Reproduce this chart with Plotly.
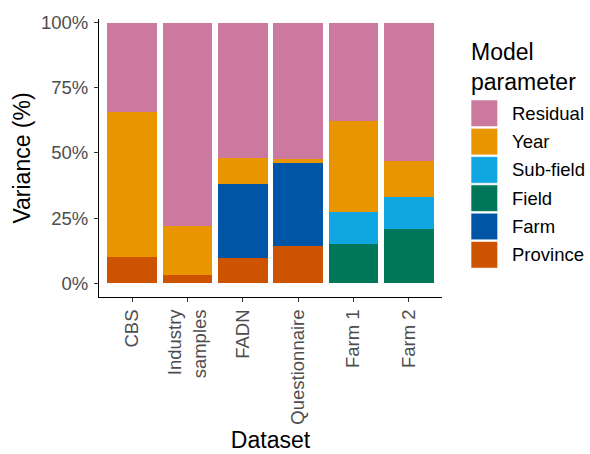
import plotly.graph_objects as go

# ---- data ----
datasets = ["CBS", "Industry<br>samples", "FADN", "Questionnaire", "Farm 1", "Farm 2"]
province = [10.2, 3.2, 9.6, 14.3, 0.0, 0.0]
farm     = [0.0, 0.0, 28.4, 31.9, 0.0, 0.0]
field    = [0.0, 0.0, 0.0, 0.0, 15.0, 20.7]
subfield = [0.0, 0.0, 0.0, 0.0, 12.4, 12.4]
year     = [55.6, 18.9, 10.1, 1.5, 34.9, 13.7]
residual = [34.2, 77.9, 51.9, 52.3, 37.7, 53.2]

series_names = ["Province", "Farm", "Field", "Sub-field", "Year", "Residual"]
series_vals = [province, farm, field, subfield, year, residual]
series_cols = ["#CD5300", "#0055A6", "#00775A", "#0FA6E2", "#E89500", "#CC79A0"]

y_ticks = [0, 25, 50, 75, 100]
y_ticktext = ["0%", "25%", "50%", "75%", "100%"]

FONT = "Liberation Sans, Arial, sans-serif"
W, H = 590, 454
L, R, T, B = 99, 441.7, 19, 297

fig = go.Figure()
for name, vals, col in zip(series_names, series_vals, series_cols):
    fig.add_trace(go.Bar(
        x=datasets, y=vals, name=name, width=0.9,
        marker=dict(color=col, line=dict(width=0)),
        showlegend=False,
    ))

def px_x(p):
    return (p - L) / (R - L)

def px_y(p):
    return (B - p) / (B - T)

# custom legend (ggplot style large keys), top item = Residual
shapes = []
annotations = []
key_x0, key_x1 = 470.7, 497.3
key_top0, key_step, key_h = 100.0, 28.3, 26.6
for i, (name, col) in enumerate(zip(series_names[::-1], series_cols[::-1])):
    top = key_top0 + i * key_step
    shapes.append(dict(type="rect", xref="paper", yref="paper",
                       x0=px_x(key_x0), x1=px_x(key_x1),
                       y0=px_y(top + key_h), y1=px_y(top),
                       fillcolor=col, line=dict(color="rgba(255,255,255,0.6)", width=1)))
    annotations.append(dict(xref="paper", yref="paper", x=px_x(510), y=px_y(top + key_h / 2),
                            text=name, showarrow=False, xanchor="left", yanchor="middle",
                            font=dict(family=FONT, size=18.5, color="#000000")))
annotations.append(dict(xref="paper", yref="paper", x=px_x(469), y=px_y(37),
                        text="Model<br>parameter", showarrow=False, xanchor="left", yanchor="top",
                        align="left",
                        font=dict(family=FONT, size=23, color="#000000")))

fig.update_layout(
    width=W, height=H,
    margin=dict(l=L, r=W - R, t=T, b=H - B, pad=0),
    barmode="stack",
    plot_bgcolor="white", paper_bgcolor="white",
    font=dict(family=FONT),
    shapes=shapes, annotations=annotations,
    showlegend=False,
)
fig.update_xaxes(
    range=[-0.6, 5.6], tickangle=-90,
    showline=True, linecolor="#000000", linewidth=1.1,
    ticks="outside", ticklen=4, tickcolor="#333333", tickwidth=1.1,
    tickfont=dict(family=FONT, size=18.5, color="#4D4D4D"),
    showgrid=False, zeroline=False, automargin=False,
    title=dict(text="Dataset", font=dict(family=FONT, size=23, color="#000000"), standoff=8),
)
fig.update_yaxes(
    range=[-5.26, 101.4], tickvals=y_ticks, ticktext=y_ticktext,
    showline=True, linecolor="#000000", linewidth=1.1,
    ticks="outside", ticklen=4, tickcolor="#333333", tickwidth=1.1,
    ticklabelstandoff=2,
    tickfont=dict(family=FONT, size=18.5, color="#4D4D4D"),
    showgrid=False, zeroline=False, automargin=False,
    title=dict(text="Variance (%)", font=dict(family=FONT, size=23, color="#000000"), standoff=3),
)

fig.write_html("out.html")
